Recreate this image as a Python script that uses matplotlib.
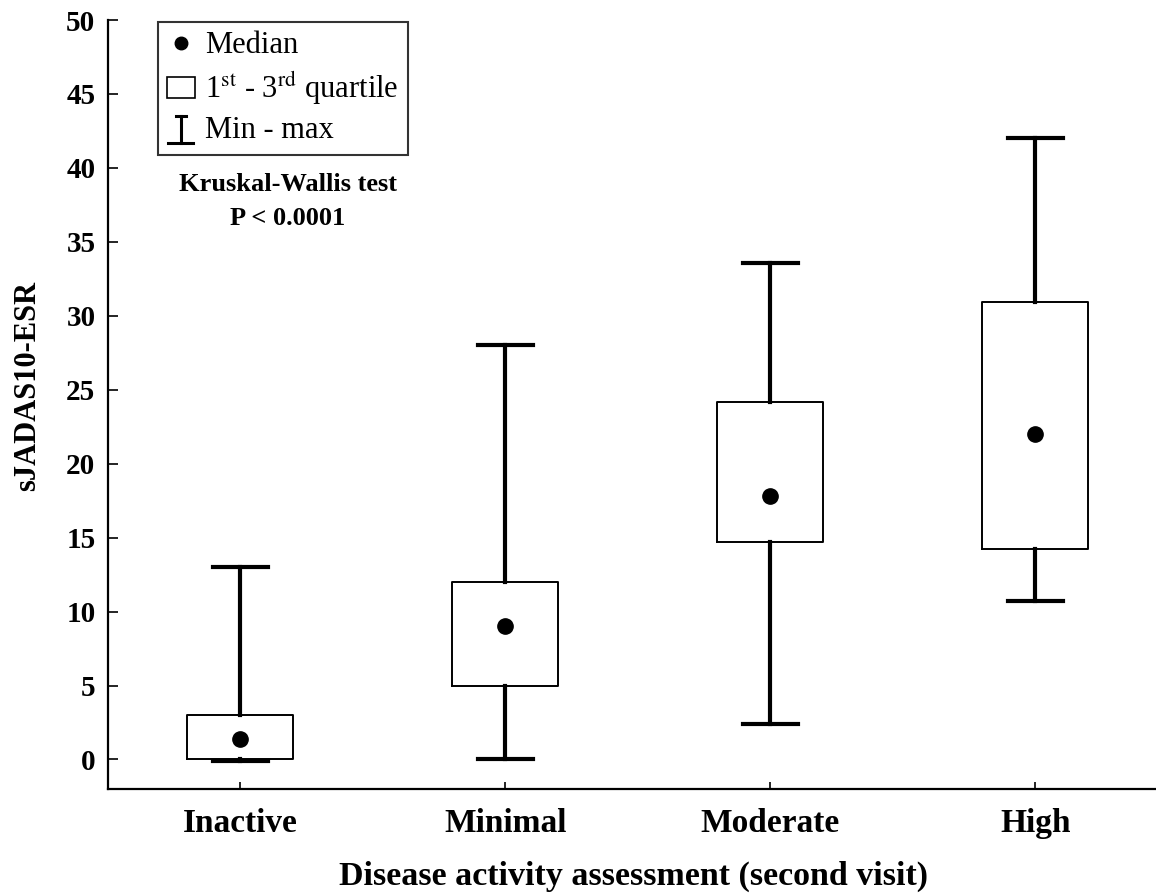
import matplotlib
matplotlib.use("Agg")
import matplotlib.pyplot as plt
from matplotlib.lines import Line2D
from matplotlib.patches import Patch
from matplotlib.legend_handler import HandlerBase

plt.rcParams['font.family'] = ['Liberation Serif', 'DejaVu Serif']
plt.rcParams['mathtext.fontset'] = 'stix'

# data
groups = ["Inactive", "Minimal", "Moderate", "High"]
medians = [1.4, 9.0, 17.8, 22.0]
q1 = [0.0, 5.0, 14.7, 14.2]
q3 = [3.0, 12.0, 24.2, 30.9]
mins = [-0.1, 0.0, 2.4, 10.7]
maxs = [13.0, 28.0, 33.6, 42.0]
yticks = [0, 5, 10, 15, 20, 25, 30, 35, 40, 45, 50]


class MinMaxHandler(HandlerBase):
    # draws the "I" shaped min-max symbol
    def create_artists(self, legend, orig_handle, xd, yd, w, h, fontsize, trans):
        cx = xd + w / 2
        lw = 2.2
        top = Line2D([cx - w * 0.18, cx + w * 0.18], [yd + h * 1.05, yd + h * 1.05], color='black', lw=lw, transform=trans)
        stem = Line2D([cx, cx], [yd - h * 0.2, yd + h * 1.05], color='black', lw=lw, transform=trans)
        bot = Line2D([cx - w * 0.45, cx + w * 0.45], [yd - h * 0.2, yd - h * 0.2], color='black', lw=lw, transform=trans)
        return [top, stem, bot]


fig = plt.figure(figsize=(11.56, 8.94), dpi=100)
ax = fig.add_axes([0.0934, 0.1174, 0.91, 0.8602])

pos = list(range(1, len(groups) + 1))
stats = []
for i in range(len(groups)):
    stats.append({'med': medians[i], 'q1': q1[i], 'q3': q3[i],
                  'whislo': mins[i], 'whishi': maxs[i], 'fliers': []})

ax.bxp(stats, positions=pos, widths=0.4, capwidths=0.21, showfliers=False,
       boxprops=dict(color='black', linewidth=1.4),
       whiskerprops=dict(color='black', linewidth=3),
       capprops=dict(color='black', linewidth=3),
       medianprops=dict(linewidth=0))
ax.plot(pos, medians, 'o', color='black', markersize=11, zorder=5)

ax.set_xlim(0.5, 4.47)
ax.set_ylim(-2, 50)
ax.set_yticks(yticks)
ax.set_xticks(pos)
ax.set_xticklabels(groups, fontsize=24, fontweight='bold')
ax.tick_params(axis='y', direction='in', length=7, width=1.2, labelsize=21, pad=9)
ax.tick_params(axis='x', direction='in', length=5, width=1.2, pad=14)
for lab in ax.get_yticklabels():
    lab.set_fontweight('bold')
for s in ['top', 'right']:
    ax.spines[s].set_visible(False)
for s in ['left', 'bottom']:
    ax.spines[s].set_linewidth(1.6)

ax.set_ylabel("sJADAS10-ESR", fontsize=22, fontweight='bold')
ax.yaxis.set_label_coords(-0.063, 0.524)
ax.set_xlabel("Disease activity assessment (second visit)", fontsize=24.5, fontweight='bold', labelpad=15)

handles = [Line2D([], [], marker='o', color='black', linestyle='none', markersize=9),
           Patch(facecolor='white', edgecolor='black', linewidth=1.2),
           'minmax']
labels = ["Median", r"1$^{\mathrm{st}}$ - 3$^{\mathrm{rd}}$ quartile", "Min - max"]
leg = ax.legend(handles, labels, loc='upper left', bbox_to_anchor=(0.0475, 0.997),
                borderaxespad=0, fontsize=22, frameon=True, fancybox=False, edgecolor='black',
                handlelength=0.9, handletextpad=0.35, borderpad=0.3, labelspacing=0.3,
                handler_map={str: MinMaxHandler()})
leg.get_frame().set_linewidth(1.5)

ax.text(0.171, 0.7635, "Kruskal-Wallis test\nP < 0.0001", transform=ax.transAxes,
        ha='center', va='center', fontsize=19, fontweight='bold', linespacing=1.6)

fig.savefig("out.png", dpi=100)
